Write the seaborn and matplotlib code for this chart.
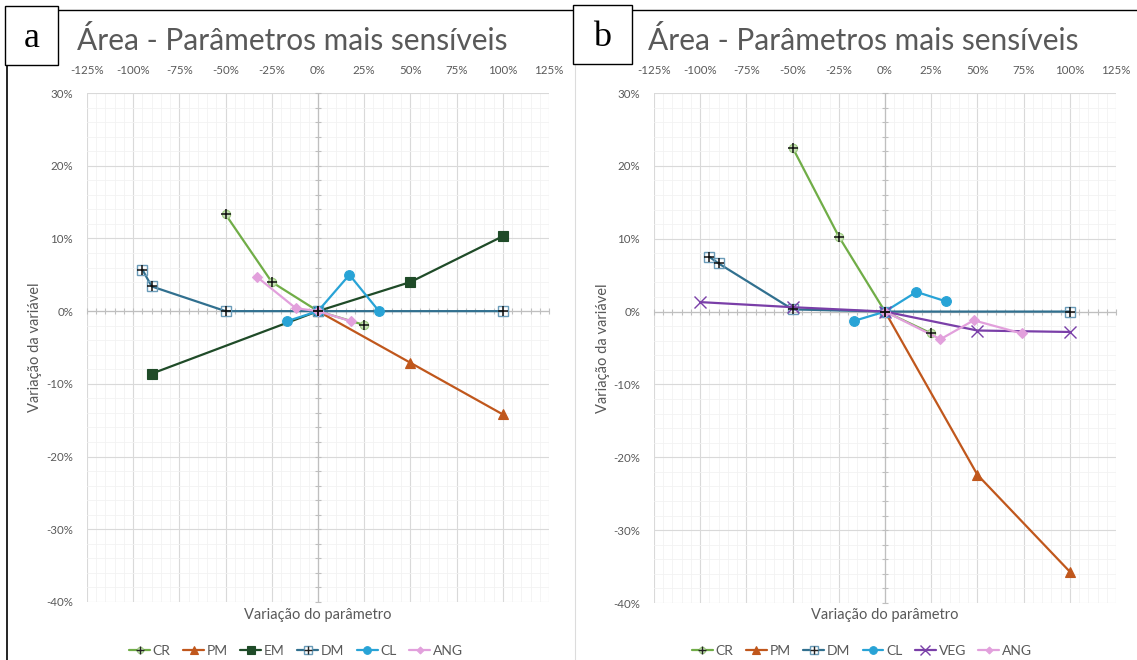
import matplotlib
matplotlib.use("Agg")
import numpy as np
import matplotlib.pyplot as plt
import seaborn as sns
from matplotlib.lines import Line2D
from matplotlib.patches import Rectangle
from matplotlib.legend_handler import HandlerTuple

# ---- data: parameter variation (%) vs. variable variation (%) ----
a_cr_x = [-50, -25, 0, 25]
a_cr_y = [13.3, 4.0, 0.0, -1.9]
a_pm_x = [0, 50, 100]
a_pm_y = [0.0, -7.1, -14.2]
a_em_x = [-90, 0, 50, 100]
a_em_y = [-8.6, 0.0, 4.0, 10.3]
a_dm_x = [-95, -90, -50, 0, 100]
a_dm_y = [5.7, 3.4, 0.0, 0.0, 0.0]
a_cl_x = [-17, 0, 17, 33]
a_cl_y = [-1.4, 0.0, 5.0, 0.0]
a_ang_x = [-33, -12, 0, 18]
a_ang_y = [4.7, 0.4, 0.0, -1.4]

b_cr_x = [-50, -25, 0, 25]
b_cr_y = [22.5, 10.3, 0.0, -3.0]
b_pm_x = [0, 50, 100]
b_pm_y = [0.0, -22.4, -35.7]
b_dm_x = [-95, -90, -50, 0, 100]
b_dm_y = [7.5, 6.6, 0.3, 0.0, 0.0]
b_cl_x = [-17, 0, 17, 33]
b_cl_y = [-1.3, 0.0, 2.7, 1.4]
b_veg_x = [-100, -50, 0, 50, 100]
b_veg_y = [1.3, 0.6, 0.0, -2.6, -2.8]
b_ang_x = [0, 30, 48, 74]
b_ang_y = [0.0, -3.8, -1.2, -3.0]

x_ticks = list(range(-125, 126, 25))
y_ticks = list(range(-40, 31, 10))
title_text = "Área - Parâmetros mais sensíveis"
xlabel_text = "Variação do parâmetro"
ylabel_text = "Variação da variável"

sns.set_theme(style="white")
plt.rcParams["font.family"] = ["Lato", "DejaVu Sans"]

W, H = 1137, 660
fig = plt.figure(figsize=(W / 100, H / 100), dpi=100)
GRAY = "#595959"


def fx(x):
    return x / W


def fy(y):
    return 1 - y / H


def px_axes(l, t, r, b):
    return fig.add_axes([l / W, 1 - b / H, (r - l) / W, (b - t) / H])


STYLES = {
    "CR": dict(color="#70ad47", marker="o", ms=6, mfc="#c9e3b6", mec="#9cc97f", mew=0.8),
    "PM": dict(color="#c0571c", marker="^", ms=7, mfc="#c0571c", mec="#c0571c", mew=0.8),
    "EM": dict(color="#1f4b28", marker="s", ms=7, mfc="#1f4b28", mec="#1f4b28", mew=0.8),
    "DM": dict(color="#31708f", marker="s", ms=7, mfc="none", mec="#6a9bb8", mew=1.0),
    "CL": dict(color="#28a3d6", marker="o", ms=7, mfc="#28a3d6", mec="#28a3d6", mew=0.8),
    "VEG": dict(color="#7a3fa8", marker="x", ms=8, mfc="#7a3fa8", mec="#7a3fa8", mew=1.0),
    "ANG": dict(color="#e2a0dc", marker="D", ms=5, mfc="#e2a0dc", mec="#e2a0dc", mew=0.8),
}
PLUS_OVER = {"CR", "DM"}


def draw_series(ax, name, xs, ys):
    st = STYLES[name]
    sns.lineplot(x=xs, y=ys, ax=ax, sort=False, estimator=None, legend=False,
                 color=st["color"], linewidth=1.6, marker=st["marker"],
                 markersize=st["ms"], markerfacecolor=st["mfc"],
                 markeredgecolor=st["mec"], markeredgewidth=st["mew"], zorder=4)
    if name in PLUS_OVER:
        sns.scatterplot(x=xs, y=ys, ax=ax, marker="+", color="#111111",
                        s=60, linewidth=1.1, legend=False, zorder=5)


def legend_handle(name):
    st = STYLES[name]
    line = Line2D([], [], color=st["color"], lw=1.6, marker=st["marker"],
                  ms=st["ms"] - 1.5, mfc=st["mfc"] if st["mfc"] != "none" else "white",
                  mec=st["mec"], mew=st["mew"])
    if name in PLUS_OVER:
        plus = Line2D([], [], ls="none", marker="+", color="#222222", ms=6, mew=1.0)
        return (line, plus)
    return line


def style_axes(ax):
    ax.set_xlim(-125, 125)
    ax.set_ylim(-40, 30)
    ax.set_xticks(x_ticks)
    ax.set_xticklabels([f"{v}%" for v in x_ticks])
    ax.set_yticks(y_ticks)
    ax.set_yticklabels([f"{v}%" for v in y_ticks])
    ax.set_xticks(np.arange(-125, 126, 5), minor=True)
    ax.set_yticks(np.arange(-40, 31, 2), minor=True)
    ax.xaxis.tick_top()
    ax.tick_params(which="both", length=0)
    ax.tick_params(axis="x", pad=12, labelsize=8.3, colors=GRAY)
    ax.tick_params(axis="y", pad=10, labelsize=8.3, colors=GRAY)
    ax.grid(which="minor", color="#f2f2f2", lw=0.6, zorder=0)
    ax.grid(which="major", color="#d9d9d9", lw=0.8, zorder=0)
    for sp in ax.spines.values():
        sp.set_visible(False)
    ax.set_facecolor("white")
    ax.axhline(0, color="#bfbfbf", lw=0.9, zorder=2)
    ax.axvline(0, color="#bfbfbf", lw=0.9, zorder=2)
    # small tick marks along the zero axes
    xt = np.arange(-125, 126, 5)
    yt = np.arange(-40, 31, 2)
    ax.plot(xt, np.zeros_like(xt), ls="none", marker="|", ms=4, color="#bfbfbf",
            mew=0.8, zorder=2, clip_on=False)
    ax.plot(np.zeros_like(yt), yt, ls="none", marker="_", ms=4, color="#bfbfbf",
            mew=0.8, zorder=2, clip_on=False)


panels = [
    dict(label="a", box=(5, 6, 58, 65), axes=(87, 93, 549, 602),
         series=[("CR", a_cr_x, a_cr_y), ("PM", a_pm_x, a_pm_y), ("EM", a_em_x, a_em_y),
                 ("DM", a_dm_x, a_dm_y), ("CL", a_cl_x, a_cl_y), ("ANG", a_ang_x, a_ang_y)],
         title_x=77, ylabel_x=35, legend_x=296),
    dict(label="b", box=(573, 5, 632, 64), axes=(654, 93, 1116, 603),
         series=[("CR", b_cr_x, b_cr_y), ("PM", b_pm_x, b_pm_y), ("DM", b_dm_x, b_dm_y),
                 ("CL", b_cl_x, b_cl_y), ("VEG", b_veg_x, b_veg_y), ("ANG", b_ang_x, b_ang_y)],
         title_x=648, ylabel_x=603, legend_x=862),
]

for p in panels:
    l, t, r, b = p["axes"]
    ax = px_axes(l, t, r, b)
    style_axes(ax)
    for name, xs, ys in p["series"]:
        draw_series(ax, name, xs, ys)

    cx = (l + r) / 2
    fig.text(fx(p["title_x"]), fy(40), title_text, fontsize=21.5, color=GRAY,
             ha="left", va="center")
    fig.text(fx(cx), fy(615), xlabel_text, fontsize=10.5, color=GRAY,
             ha="center", va="center")
    fig.text(fx(p["ylabel_x"]), fy((t + b) / 2), ylabel_text, fontsize=10.5,
             color=GRAY, ha="center", va="center", rotation=90)

    names = [s[0] for s in p["series"]]
    fig.legend([legend_handle(n) for n in names], names,
               loc="center", bbox_to_anchor=(fx(p["legend_x"]), fy(651)),
               ncol=len(names), frameon=False, fontsize=10, labelcolor=GRAY,
               handlelength=1.5, handletextpad=0.2, columnspacing=0.9,
               handler_map={tuple: HandlerTuple(ndivide=1, pad=0)})

    bx0, by0, bx1, by1 = p["box"]
    fig.patches.append(Rectangle((fx(bx0), fy(by1)), (bx1 - bx0) / W, (by1 - by0) / H,
                                 transform=fig.transFigure, facecolor="white",
                                 edgecolor="black", lw=1.0, zorder=10))
    fig.text(fx((bx0 + bx1) / 2), fy((by0 + by1) / 2 + 3), p["label"],
             family=["Liberation Serif", "DejaVu Serif"], fontsize=26,
             color="black", ha="center", va="center", zorder=11)

# panel frames
fig.add_artist(Line2D([fx(58), fx(573)], [fy(10), fy(10)], color="black", lw=1.0))
fig.add_artist(Line2D([fx(632), fx(1137)], [fy(10), fy(10)], color="black", lw=1.0))
fig.add_artist(Line2D([fx(7), fx(7)], [fy(65), fy(660)], color="black", lw=1.2))
fig.add_artist(Line2D([fx(575), fx(575)], [fy(64), fy(660)], color="#dcdcdc", lw=0.8))

fig.savefig("out.png", dpi=100, facecolor="white")
